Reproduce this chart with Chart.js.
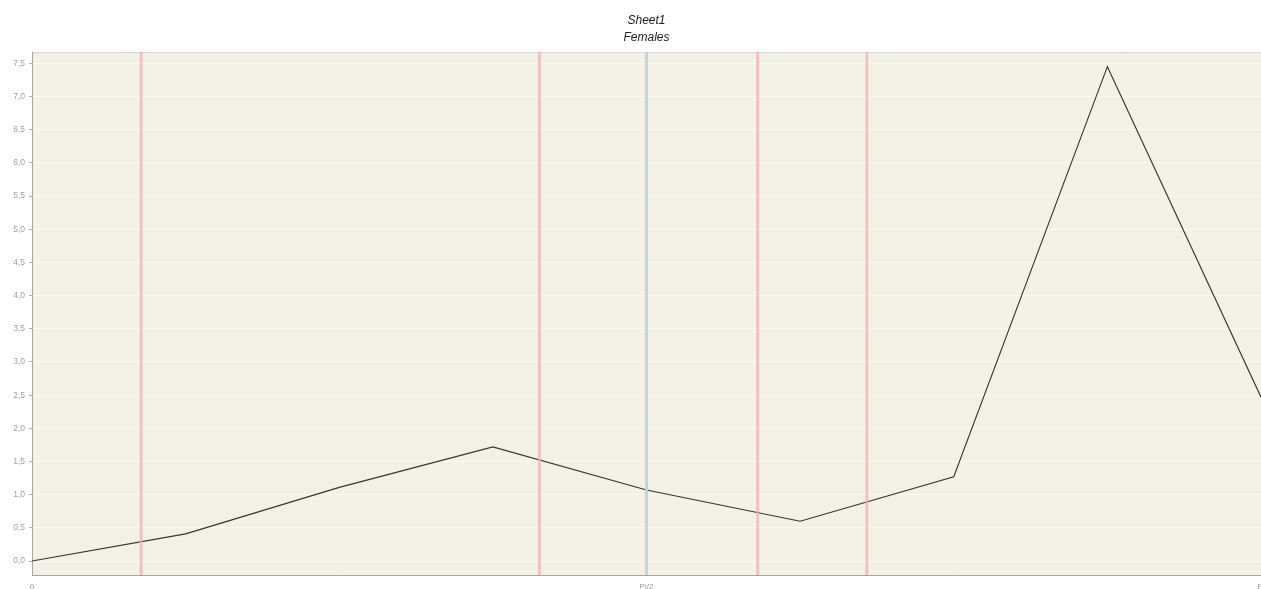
<!DOCTYPE html>
<html>
<head>
<meta charset="utf-8">
<script src="https://cdn.jsdelivr.net/npm/chart.js@4"></script>
<style>
  body { margin: 0; background: #fff; }
  canvas { display: block; }
</style>
</head>
<body>
<canvas id="chart1" width="1261" height="589"></canvas>
<script>
// data
const xs = [0, Math.PI / 8, 2 * Math.PI / 8, 3 * Math.PI / 8, 4 * Math.PI / 8, 5 * Math.PI / 8, 6 * Math.PI / 8, 7 * Math.PI / 8, Math.PI];
const females = [0.0, 0.41, 1.11, 1.72, 1.07, 0.60, 1.27, 7.45, 2.47];
const redMarks = [0.279, 1.297, 1.855, 2.134];
const blueMarks = [Math.PI / 2];
const yTicks = [0, 0.5, 1, 1.5, 2, 2.5, 3, 3.5, 4, 4.5, 5, 5.5, 6, 6.5, 7, 7.5];
const xTicks = [0, Math.PI / 2, Math.PI];
const xTickLabels = ['0', 'Pi/2', 'Pi'];
const yMin = -0.21, yMax = 7.67;

const lineData = xs.map((x, i) => ({ x: x, y: females[i] }));

function markSet(x, col) {
  return {
    data: [{ x: x, y: yMin }, { x: x, y: yMax }],
    borderColor: col,
    borderWidth: 3,
    pointRadius: 0,
    fill: false
  };
}

const datasets = [];
redMarks.forEach(x => datasets.push(markSet(x, 'rgba(240,175,175,0.7)')));
blueMarks.forEach(x => datasets.push(markSet(x, 'rgba(190,210,222,0.9)')));
datasets.push({
  label: 'Females',
  data: lineData,
  borderColor: '#35352e',
  borderWidth: 1.1,
  pointRadius: 0,
  tension: 0,
  fill: false
});

const bgPlugin = {
  id: 'bg',
  beforeDraw(chart) {
    const a = chart.chartArea, c = chart.ctx;
    c.save();
    c.fillStyle = '#f3f1e5';
    c.fillRect(a.left, a.top, a.right - a.left, a.bottom - a.top);
    c.strokeStyle = '#d8d8d8';
    c.lineWidth = 1;
    c.beginPath();
    c.moveTo(a.left, a.top + 0.5);
    c.lineTo(a.right, a.top + 0.5);
    c.stroke();
    c.restore();
  }
};

const ctx = document.getElementById('chart1');
new Chart(ctx, {
  type: 'line',
  data: { datasets: datasets },
  plugins: [bgPlugin],
  options: {
    responsive: false,
    animation: false,
    layout: { padding: 0 },
    plugins: {
      legend: { display: false },
      tooltip: { enabled: false },
      title: {
        display: true,
        fullSize: false,
        text: ['Sheet1', 'Females'],
        color: '#222',
        font: { family: 'Liberation Sans', size: 12, style: 'italic', weight: 'normal', lineHeight: 1.42 },
        padding: { top: 12, bottom: 6 }
      }
    },
    scales: {
      x: {
        type: 'linear',
        min: 0,
        max: Math.PI,
        afterBuildTicks: axis => { axis.ticks = xTicks.map(v => ({ value: v })); },
        afterFit: axis => { axis.height = 14; axis.paddingRight = 0; axis.paddingLeft = 0; },
        ticks: {
          color: '#9a9a9a',
          font: { family: 'Liberation Sans', size: 8 },
          padding: 7,
          maxRotation: 0,
          autoSkip: false,
          callback: (v) => {
            const i = xTicks.findIndex(t => Math.abs(t - v) < 1e-6);
            return i >= 0 ? xTickLabels[i] : '';
          }
        },
        grid: { display: false, drawTicks: false },
        border: { color: '#a8a8a0', width: 1 }
      },
      y: {
        min: yMin,
        max: yMax,
        afterBuildTicks: axis => { axis.ticks = yTicks.map(v => ({ value: v })); },
        afterFit: axis => { axis.width = 32; },
        ticks: {
          color: '#a0a0a0',
          font: { family: 'Liberation Sans', size: 8.5 },
          padding: 4,
          callback: v => v.toFixed(1).replace('.', ',')
        },
        grid: { color: 'rgba(255,255,255,0.55)', lineWidth: 1, tickLength: 3, tickColor: '#b0b0b0' },
        border: { color: '#a8a8a0', width: 1 }
      }
    }
  }
});
</script>
</body>
</html>
